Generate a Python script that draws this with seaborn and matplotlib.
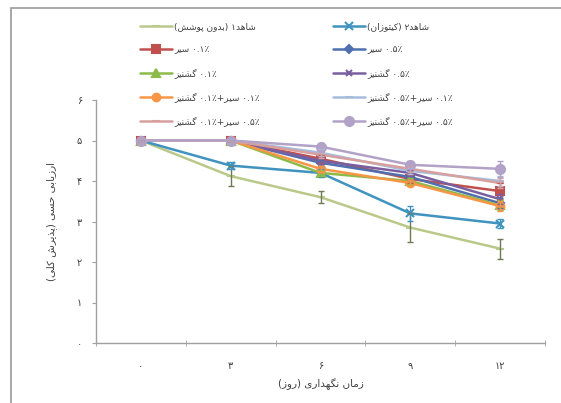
import matplotlib
matplotlib.use('Agg')
import matplotlib.pyplot as plt
from matplotlib.patches import Rectangle
import seaborn as sns
import numpy as np
import pandas as pd

# --- data ---
days = ['۰', '۳', '۶', '۹', '۱۲']
series = ['شاهد۱ (بدون پوشش)', 'شاهد۲ (کیتوزان)',
          '۰.۱٪ سیر', '۰.۵٪ سیر',
          '۰.۱٪ گشنیز', '۰.۵٪ گشنیز',
          '۰.۱٪ سیر+۰.۱٪ گشنیز', '۰.۱٪ سیر+۰.۵٪ گشنیز',
          '۰.۵٪ سیر+۰.۱٪ گشنیز', '۰.۵٪ سیر+۰.۵٪ گشنیز']
control1 = [5.0, 4.12, 3.6, 2.85, 2.33]
control2 = [5.0, 4.38, 4.2, 3.2, 2.95]
garlic01 = [5.0, 5.0, 4.55, 4.05, 3.75]
garlic05 = [5.0, 5.0, 4.45, 4.1, 3.45]
cor01 = [5.0, 5.0, 4.2, 4.0, 3.4]
cor05 = [5.0, 5.0, 4.5, 4.2, 3.55]
g01c01 = [5.0, 5.0, 4.3, 3.95, 3.38]
g01c05 = [5.0, 5.0, 4.7, 4.25, 4.0]
g05c01 = [5.0, 5.0, 4.65, 4.3, 3.95]
g05c05 = [5.0, 5.0, 4.85, 4.4, 4.3]
err_c1 = [0, 0.25, 0.15, 0.35, 0.25]
err_c2 = [0, 0.08, 0.1, 0.18, 0.1]
err_small = [0, 0, 0.08, 0.08, 0.12]
err_big = [0, 0, 0.1, 0.1, 0.2]
y_label = 'ارزیابی حسی (پذیرش کلی)'
x_label = 'زمان نگهداری (روز)'

values = [control1, control2, garlic01, garlic05, cor01, cor05,
          g01c01, g01c05, g05c01, g05c05]
errors = [err_c1, err_c2, err_big, err_small, err_small, err_small,
          err_small, err_small, err_small, err_big]
colors = ['#B9C98A', '#3F93BE', '#C0504D', '#4F6FAF', '#8DBB4A', '#7A5FA0',
          '#F79646', '#A5BCDC', '#D7A09E', '#B3A2C7']
markers = ['_', 'x', 's', 'D', '^', 'x', 'o', '_', '_', 'o']
msizes = [6, 6, 6, 4.5, 5.5, 5, 5.5, 6, 6, 6.5]

# --- minimal Persian shaping + visual ordering (matplotlib has no bidi) ---
FORMS = {
    'ا': (0xFE8D, 0xFE8E, None, None), 'ب': (0xFE8F, 0xFE90, 0xFE91, 0xFE92),
    'پ': (0xFB56, 0xFB57, 0xFB58, 0xFB59), 'ت': (0xFE95, 0xFE96, 0xFE97, 0xFE98),
    'ح': (0xFEA1, 0xFEA2, 0xFEA3, 0xFEA4), 'د': (0xFEA9, 0xFEAA, None, None),
    'ذ': (0xFEAB, 0xFEAC, None, None), 'ر': (0xFEAD, 0xFEAE, None, None),
    'ز': (0xFEAF, 0xFEB0, None, None), 'س': (0xFEB1, 0xFEB2, 0xFEB3, 0xFEB4),
    'ش': (0xFEB5, 0xFEB6, 0xFEB7, 0xFEB8), 'ک': (0xFB8E, 0xFB8F, 0xFB90, 0xFB91),
    'گ': (0xFB92, 0xFB93, 0xFB94, 0xFB95), 'ل': (0xFEDD, 0xFEDE, 0xFEDF, 0xFEE0),
    'م': (0xFEE1, 0xFEE2, 0xFEE3, 0xFEE4), 'ن': (0xFEE5, 0xFEE6, 0xFEE7, 0xFEE8),
    'ه': (0xFEE9, 0xFEEA, 0xFEEB, 0xFEEC), 'و': (0xFEED, 0xFEEE, None, None),
    'ی': (0xFBFC, 0xFBFD, 0xFBFE, 0xFBFF),
}
NUM = set('۰۱۲۳۴۵۶۷۸۹0123456789.٪%/')


def fa(s):
    out = []
    for i, c in enumerate(s):
        if c not in FORMS:
            out.append(c)
            continue
        prev = s[i - 1] if i > 0 else None
        nxt = s[i + 1] if i + 1 < len(s) else None
        jp = prev in FORMS and FORMS[prev][2] is not None
        jn = FORMS[c][2] is not None and nxt in FORMS
        f = FORMS[c]
        code = f[3] if (jp and jn) else f[1] if jp else f[2] if jn else f[0]
        out.append(chr(code))
    runs = []
    for ch in out:
        isnum = ch in NUM
        if runs and runs[-1][0] == isnum:
            runs[-1][1].append(ch)
        else:
            runs.append([isnum, [ch]])
    mirror = {'(': ')', ')': '('}
    vis = ''
    for isnum, r in reversed(runs):
        vis += ''.join(r) if isnum else ''.join(mirror.get(c, c) for c in reversed(r))
    return vis


sns.set_style('white')
plt.rcParams['font.family'] = ['DejaVu Sans']
txt = '#404040'

fig = plt.figure(figsize=(5.61, 4.03), dpi=100)
ax = fig.add_axes([96 / 561, 1 - 343 / 403, 449 / 561, 243 / 403])

pos = np.arange(len(days))
h = {}
for name, v, e, c, m, ms in zip(series, values, errors, colors, markers, msizes):
    df = pd.DataFrame({'pos': pos, 'value': v})
    sns.lineplot(data=df, x='pos', y='value', ax=ax, color=c, lw=1.8,
                 marker=m, markersize=ms, markeredgecolor=c, markeredgewidth=1.5,
                 legend=False)
    h[name] = ax.get_lines()[-1]
    ecol = '#6f7a55' if name == series[0] else c
    ax.errorbar(pos, v, yerr=e, fmt='none', ecolor=ecol, elinewidth=1, capsize=2.5, zorder=3)

ax.set_xlim(-0.5, 4.5)
ax.set_ylim(0, 6)
ax.set_xticks(pos)
ax.set_xticklabels(days)
ax.set_xticks(np.arange(-0.5, 4.6, 1), minor=True)
ax.set_yticks(range(7))
ax.set_yticklabels(['۰', '۱', '۲', '۳', '۴', '۵', '۶'])
ax.tick_params(axis='x', which='major', length=0, pad=13, labelsize=7, labelcolor=txt)
ax.tick_params(axis='x', which='minor', length=4, direction='inout', color='#a0a0a0', bottom=True)
ax.tick_params(axis='y', length=3, direction='out', color='#a0a0a0', pad=7, labelsize=7,
               labelcolor=txt, left=True)
for sp in ['top', 'right']:
    ax.spines[sp].set_visible(False)
for sp in ['left', 'bottom']:
    ax.spines[sp].set_color('#a0a0a0')
    ax.spines[sp].set_linewidth(1)
ax.set_xlabel(fa(x_label), fontsize=7.5, color=txt, labelpad=5)
ax.set_ylabel(fa(y_label), fontsize=7.5, color=txt, labelpad=14)

left = series[0::2]
right = series[1::2]
kw = dict(frameon=False, fontsize=6.5, loc='upper left', borderpad=0, borderaxespad=0,
          handlelength=3.5, handletextpad=0.3, labelspacing=1.55, labelcolor=txt)
fig.legend([h[k] for k in left], [fa(k) for k in left],
           bbox_to_anchor=(140 / 561, 1 - 22 / 403), **kw)
fig.legend([h[k] for k in right], [fa(k) for k in right],
           bbox_to_anchor=(333 / 561, 1 - 22 / 403), **kw)

fig.patches.append(Rectangle((11 / 561, -0.1), 1.2, 1.1 - 8 / 403, transform=fig.transFigure,
                             fill=False, ec='#9a9a9a', lw=1.2))

fig.savefig('out.png', dpi=100)
